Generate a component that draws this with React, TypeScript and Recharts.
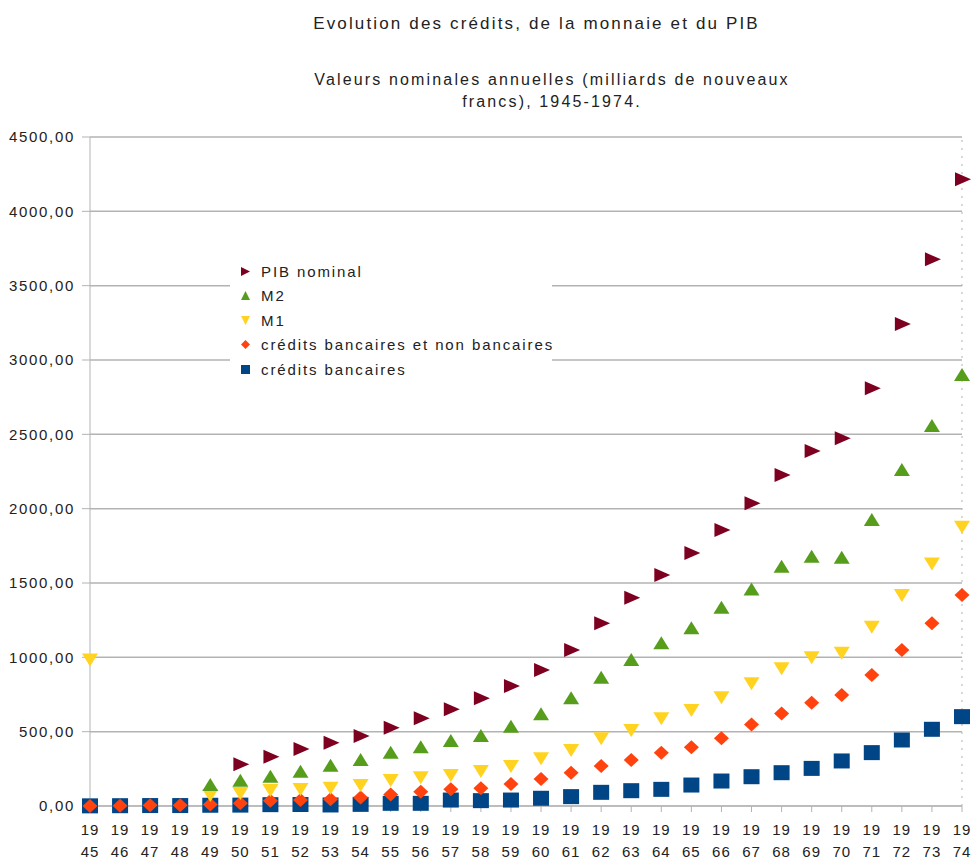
import React from "react"
import { ScatterChart, Scatter, XAxis, YAxis, CartesianGrid, Legend, ReferenceLine } from "recharts"

// années (catégories de l'axe X)
const years = [
  1945, 1946, 1947, 1948, 1949, 1950, 1951, 1952, 1953, 1954, 1955, 1956, 1957, 1958, 1959,
  1960, 1961, 1962, 1963, 1964, 1965, 1966, 1967, 1968, 1969, 1970, 1971, 1972, 1973, 1974,
]

// valeurs (milliards de NF)
const creditsBancaires = [
  1, 2, 3, 3, 5, 6, 9, 10, 7, 11, 18, 18, 40, 36, 40, 52, 63, 92, 103, 112, 141, 168, 197, 224, 253,
  303, 359, 444, 516, 601,
]
const creditsTotaux = [
  0, 1, 5, 5, 10, 18, 36, 40, 45, 58, 78, 96, 112, 119, 148, 182, 224, 269, 309, 359, 395, 455, 549,
  623, 695, 747, 881, 1049, 1229, 1419,
]
const m1 = [
  985, null, null, null, 74, 87, 108, 114, 123, 141, 175, 193, 208, 235, 269, 321, 377, 455, 511, 590,
  646, 731, 825, 926, 1000, 1031, 1206, 1419, 1632, 1879,
]
const m2 = [
  null, null, null, null, 141, 170, 197, 231, 271, 309, 359, 395, 437, 471, 533, 617, 724, 863, 982,
  1094, 1195, 1334, 1457, 1610, 1677, 1670, 1924, 2260, 2556, 2899,
]
const pib = [
  null, null, null, null, null, 280, 332, 383, 426, 471, 527, 590, 650, 724, 807, 915, 1049, 1229,
  1401, 1554, 1702, 1857, 2036, 2226, 2388, 2473, 2810, 3242, 3677, 4215,
]

const yTicks = [0, 500, 1000, 1500, 2000, 2500, 3000, 3500, 4000, 4500]

// couleurs par défaut LibreOffice
const C = {
  bleu: "#004586",
  orange: "#ff420e",
  jaune: "#ffd320",
  vert: "#579d1c",
  bordeaux: "#7e0021",
}

const FONT = "'Liberation Sans', Arial, sans-serif"
const GRID = "#b3b3b3"

const toPoints = (vals: (number | null)[]) =>
  years.map((year, i) => ({ year, value: vals[i] })).filter((d) => d.value !== null)

// formes des marqueurs
const Square = ({ cx, cy }: any) => <rect x={cx - 8} y={cy - 7.5} width={16} height={15} fill={C.bleu} />
const Diamond = ({ cx, cy }: any) => (
  <polygon points={`${cx},${cy - 7} ${cx + 7.5},${cy} ${cx},${cy + 7} ${cx - 7.5},${cy}`} fill={C.orange} />
)
const DownTri = ({ cx, cy }: any) => (
  <polygon points={`${cx - 8},${cy - 6} ${cx + 8},${cy - 6} ${cx},${cy + 7}`} fill={C.jaune} />
)
const UpTri = ({ cx, cy }: any) => (
  <polygon points={`${cx},${cy - 7} ${cx + 8},${cy + 6} ${cx - 8},${cy + 6}`} fill={C.vert} />
)
const RightTri = ({ cx, cy }: any) => (
  <polygon points={`${cx - 7},${cy - 7} ${cx + 9},${cy} ${cx - 7},${cy + 7}`} fill={C.bordeaux} />
)

const series = [
  { name: "crédits bancaires", data: creditsBancaires, shape: Square, color: C.bleu },
  { name: "crédits bancaires et non bancaires", data: creditsTotaux, shape: Diamond, color: C.orange },
  { name: "M1", data: m1, shape: DownTri, color: C.jaune },
  { name: "M2", data: m2, shape: UpTri, color: C.vert },
  { name: "PIB nominal", data: pib, shape: RightTri, color: C.bordeaux },
]

const legendIcon = (name: string) => {
  if (name === "PIB nominal") return <polygon points="1,1 10,5.5 1,10" fill={C.bordeaux} />
  if (name === "M2") return <polygon points="5.5,1 10,10 1,10" fill={C.vert} />
  if (name === "M1") return <polygon points="1,1 10,1 5.5,10" fill={C.jaune} />
  if (name === "crédits bancaires") return <rect x={1} y={1} width={9} height={9} fill={C.bleu} />
  return <polygon points="5.5,1 10,5.5 5.5,10 1,5.5" fill={C.orange} />
}

const CustomLegend = () => (
  <div style={{ background: "#fff", padding: "3px 0 7px 10px", fontFamily: FONT }}>
    {[...series].reverse().map((s) => (
      <div key={s.name} style={{ display: "flex", alignItems: "center", height: 24.5, whiteSpace: "nowrap" }}>
        <svg width={11} height={11} style={{ marginRight: 10, flexShrink: 0 }}>
          {legendIcon(s.name)}
        </svg>
        <span style={{ fontSize: 15, color: "#222", letterSpacing: 1.9 }}>{s.name}</span>
      </div>
    ))}
  </div>
)

const YearTick = ({ x, y, payload }: any) => {
  const s = String(payload.value)
  return (
    <text x={x} y={y} textAnchor="middle" fill="#222" fontSize={15} fontFamily={FONT} letterSpacing={1}>
      <tspan x={x} dy={21}>
        {s.slice(0, 2)}
      </tspan>
      <tspan x={x} dy={22}>
        {s.slice(2)}
      </tspan>
    </text>
  )
}

const fmt = (v: number) => v.toFixed(2).replace(".", ",")

export default function App() {
  return (
    <div style={{ position: "absolute", left: 0, top: 0, width: 973, height: 861, background: "#fff" }}>
      <div
        style={{
          position: "absolute",
          left: 100,
          width: 873,
          top: 14,
          textAlign: "center",
          fontFamily: FONT,
          fontSize: 17,
          letterSpacing: 2.15,
          color: "#222",
        }}
      >
        Evolution des crédits, de la monnaie et du PIB
      </div>
      <div
        style={{
          position: "absolute",
          left: 131,
          width: 842,
          top: 69,
          textAlign: "center",
          fontFamily: FONT,
          fontSize: 16,
          lineHeight: "22px",
          letterSpacing: 2.15,
          color: "#222",
        }}
      >
        Valeurs nominales annuelles (milliards de nouveaux
        <br />
        francs), 1945-1974.
      </div>
      <ScatterChart width={973} height={861} margin={{ top: 137, right: 11, bottom: 5, left: 0 }}>
        <CartesianGrid vertical={false} stroke={GRID} strokeWidth={1.5} />
        <XAxis
          type="number"
          dataKey="year"
          domain={[1945, 1974]}
          ticks={years}
          interval={0}
          height={50}
          stroke={GRID}
          tickSize={6}
          tickMargin={2}
          tick={<YearTick />}
        />
        <YAxis
          type="number"
          dataKey="value"
          domain={[0, 4500]}
          ticks={yTicks}
          width={90}
          stroke={GRID}
          tickSize={8}
          tickMargin={7}
          tickFormatter={fmt}
          tick={{ fill: "#222", fontSize: 15, fontFamily: FONT, letterSpacing: 1.7 }}
        />
        <ReferenceLine x={1974} stroke={GRID} strokeDasharray="2 6" />
        {series.map((s) => (
          <Scatter
            key={s.name}
            name={s.name}
            data={toPoints(s.data)}
            fill={s.color}
            shape={s.shape}
            isAnimationActive={false}
          />
        ))}
        <Legend
          layout="vertical"
          align="center"
          verticalAlign="middle"
          content={<CustomLegend />}
          wrapperStyle={{ left: 230, top: 256, width: 322 }}
        />
      </ScatterChart>
    </div>
  )
}
